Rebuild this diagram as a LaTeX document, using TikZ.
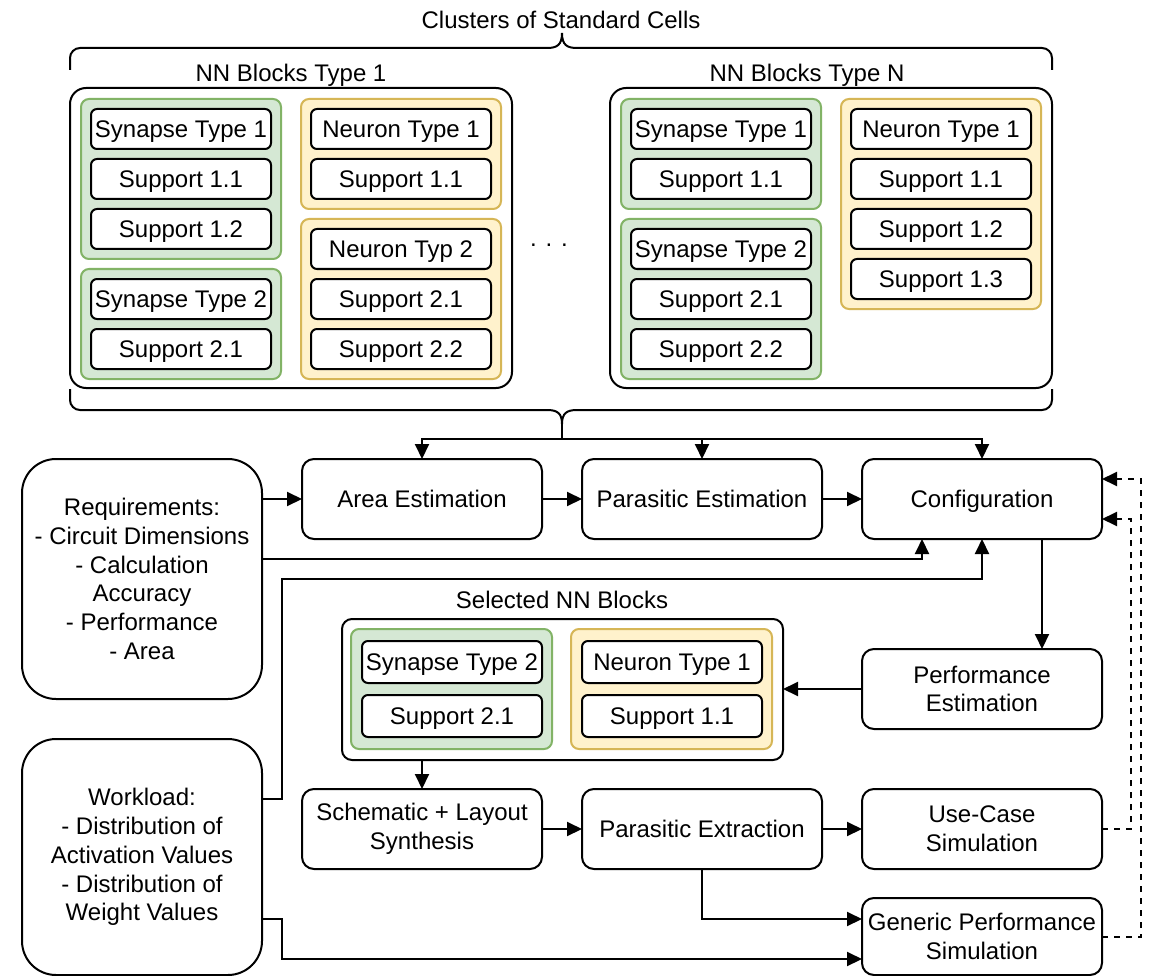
\documentclass[tikz,border=0pt]{standalone}
\usepackage{fontspec}
\setmainfont{Liberation Sans}
\usetikzlibrary{arrows.meta}
\definecolor{grfill}{HTML}{D5E8D4}
\definecolor{grline}{HTML}{82B366}
\definecolor{yefill}{HTML}{FFF2CC}
\definecolor{yeline}{HTML}{D6B656}
\begin{document}
\begin{tikzpicture}[x=1pt, y=-1pt, line width=2pt,
  every node/.style={font=\fontsize{24pt}{28.8pt}\selectfont, inner sep=0pt, outer sep=0pt},
  lbl/.style={text height=17pt, text depth=0pt},
  cell/.style={lbl, draw=black, fill=white, rounded corners=6pt, minimum width=180pt, minimum height=40pt},
  syngrp/.style={draw=grline, fill=grfill, rounded corners=8pt},
  neugrp/.style={draw=yeline, fill=yefill, rounded corners=8pt},
  blockbox/.style={draw=black, fill=white, rounded corners=16pt},
  proc/.style={draw=black, fill=white, rounded corners=12pt, minimum width=240pt, minimum height=80pt, align=center},
  reqbox/.style={draw=black, fill=white, rounded corners=34pt, minimum width=240pt, align=center},
  arr/.style={-{Triangle[length=15pt,width=14pt]}},
  fb/.style={arr, dash pattern=on 6pt off 6pt}]
\useasboundingbox (0,0) rectangle (1153,976);

% --- cell library header and braces ---
\node[lbl] (title) at (561,20) {Clusters of Standard Cells};
\coordinate (ttip) at (562,33);
\draw (70,70) -- (70,58) .. controls (70,52.5) and (74.5,48) .. (80,48) -- (547,48)
  .. controls (557,48) and (562,45) .. (ttip) .. controls (562,45) and (567,48) .. (577,48)
  -- (1042,48) .. controls (1047.5,48) and (1052,52.5) .. (1052,58) -- (1052,70);

% --- NN blocks type 1 ---
\node[lbl] (blkAlbl) at (291,73) {NN Blocks Type 1};
\node[blockbox, minimum width=442pt, minimum height=300pt] (blkA) at (291,238) {};
\node[syngrp, minimum width=200pt, minimum height=160pt] (gAs1) at (181,179) {};
\node[syngrp, minimum width=200pt, minimum height=110pt] (gAs2) at (181,324) {};
\node[neugrp, minimum width=200pt, minimum height=110pt] (gAn1) at (401,154) {};
\node[neugrp, minimum width=200pt, minimum height=160pt] (gAn2) at (401,299) {};
\node[cell] (aS1)  at (181,129) {Synapse Type 1};
\node[cell] (aS1a) at (181,179) {Support 1.1};
\node[cell] (aS1b) at (181,229) {Support 1.2};
\node[cell] (aS2)  at (181,299) {Synapse Type 2};
\node[cell] (aS2a) at (181,349) {Support 2.1};
\node[cell] (aN1)  at (401,129) {Neuron Type 1};
\node[cell] (aN1a) at (401,179) {Support 1.1};
\node[cell] (aN2)  at (401,249) {Neuron Typ 2};
\node[cell] (aN2a) at (401,299) {Support 2.1};
\node[cell] (aN2b) at (401,349) {Support 2.2};

\node (dots) at (549,245) {. . .};

% --- NN blocks type N ---
\node[lbl] (blkNlbl) at (807,73) {NN Blocks Type N};
\node[blockbox, minimum width=442pt, minimum height=300pt] (blkN) at (831,238) {};
\node[syngrp, minimum width=200pt, minimum height=110pt] (gNs1) at (721,154) {};
\node[syngrp, minimum width=200pt, minimum height=160pt] (gNs2) at (721,299) {};
\node[neugrp, minimum width=200pt, minimum height=210pt] (gNn1) at (941,204) {};
\node[cell] (nS1)  at (721,129) {Synapse Type 1};
\node[cell] (nS1a) at (721,179) {Support 1.1};
\node[cell] (nS2)  at (721,249) {Synapse Type 2};
\node[cell] (nS2a) at (721,299) {Support 2.1};
\node[cell] (nS2b) at (721,349) {Support 2.2};
\node[cell] (nN1)  at (941,129) {Neuron Type 1};
\node[cell] (nN1a) at (941,179) {Support 1.1};
\node[cell] (nN1b) at (941,229) {Support 1.2};
\node[cell] (nN1c) at (941,279) {Support 1.3};

% lower brace collecting both block types
\coordinate (btip) at (562,424);
\coordinate (split) at (562,439);
\draw (70,389) -- (70,400) .. controls (70,405.5) and (74.5,410) .. (80,410) -- (547,410)
  .. controls (557,410) and (562,413) .. (btip) .. controls (562,413) and (567,410) .. (577,410)
  -- (1042,410) .. controls (1047.5,410) and (1052,405.5) .. (1052,400) -- (1052,389);

% --- flow steps ---
\node[reqbox, minimum height=240pt] (req) at (142,579)
  {Requirements:\\- Circuit Dimensions\\- Calculation\\Accuracy\\- Performance\\- Area};
\node[reqbox, minimum height=236pt] (work) at (142,857)
  {Workload:\\- Distribution of\\Activation Values\\- Distribution of\\Weight Values};
\node[proc, lbl] (area) at (422,499) {Area Estimation};
\node[proc, lbl] (pest) at (702,499) {Parasitic Estimation};
\node[proc, lbl] (conf) at (982,499) {Configuration};
\node[proc] (perf) at (982,689) {Performance\\Estimation};
\node[proc] (schem) at (422,829) {Schematic + Layout\\Synthesis};
\node[proc, lbl] (pext) at (702,829) {Parasitic Extraction};
\node[proc] (uc) at (982,829) {Use-Case\\Simulation};
\node[proc, minimum height=77pt] (gen) at (982,936.5) {Generic Performance\\Simulation};

% --- selected blocks ---
\node[lbl] (sellbl) at (562,600) {Selected NN Blocks};
\node[blockbox, rounded corners=10pt, minimum width=441pt, minimum height=141pt] (sel) at (562.5,689.5) {};
\node[syngrp, minimum width=201pt, minimum height=120pt] (gSs) at (451.5,689) {};
\node[neugrp, minimum width=201pt, minimum height=120pt] (gSn) at (671.5,689) {};
\node[cell, minimum height=42pt] (sS2)  at (452,662) {Synapse Type 2};
\node[cell, minimum height=42pt] (sS2a) at (452,716) {Support 2.1};
\node[cell, minimum height=42pt] (sN1)  at (672,662) {Neuron Type 1};
\node[cell, minimum height=42pt] (sN1a) at (672,716) {Support 1.1};

% --- connectors ---
\draw (btip) -- (split);
\draw[arr] (split) -| (area.north);
\draw[arr] (split) -| (pest.north);
\draw[arr] (split) -| (conf.north);
\draw[arr] (req.east |- area.west) -- (area.west);
\draw[arr] (area.east) -- (pest.west);
\draw[arr] (pest.east) -- (conf.west);
\draw[arr] (req.east |- 0,559) -| ([xshift=-60pt]conf.south);
\draw[arr] (work.east |- 0,799) -- (282,799) -- (282,579) -| (conf.south);
\draw[arr] ([xshift=60pt]conf.south) -- ([xshift=60pt]perf.north);
\draw[arr] (perf.west) -- (sel.east |- perf.west);
\draw[arr] (sel.south -| schem.north) -- (schem.north);
\draw[arr] (schem.east) -- (pext.west);
\draw[arr] (pext.east) -- (uc.west);
\draw[arr] (pext.south) |- ([yshift=17.5pt]gen.west);
\draw[arr] (work.east |- 0,919) -- (282,919) |- ([yshift=-22.5pt]gen.west);
\draw[fb] (uc.east) -- (1131,829) |- ([yshift=-20pt]conf.east);
\draw[fb] (gen.east) -- (1141,936.5) |- ([yshift=20pt]conf.east);
\end{tikzpicture}
\end{document}
